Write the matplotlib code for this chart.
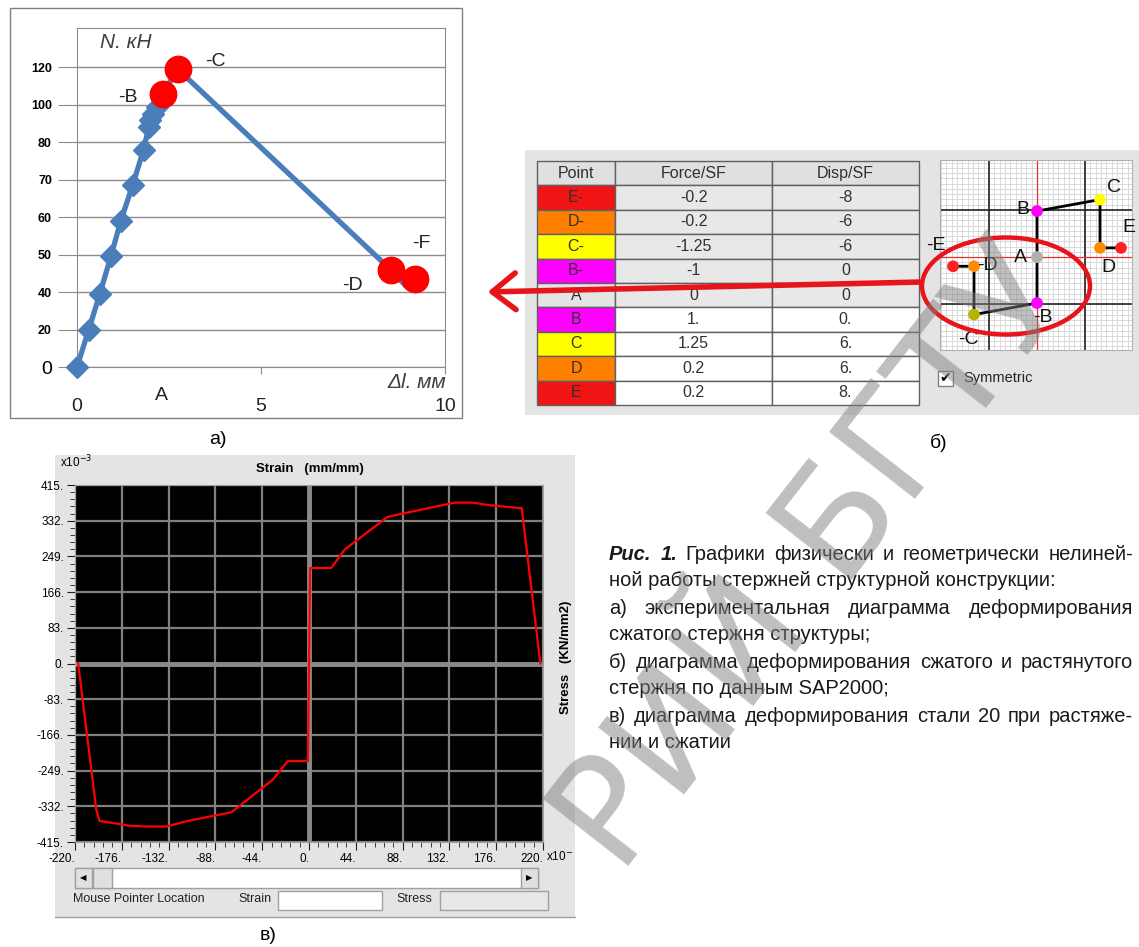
import numpy as np
import matplotlib
matplotlib.use('Agg')
import matplotlib.pyplot as plt
import matplotlib.transforms as mtransforms
from matplotlib.patches import Rectangle, Ellipse, FancyArrowPatch
from matplotlib import font_manager as fm

# ---- panel a: experimental diagram (plotted units, y labels are irregular) ----
disp_a = [0.0, 0.32, 0.62, 0.92, 1.19, 1.51, 1.81, 1.95, 1.99, 2.06, 2.17, 2.33, 2.74, 8.52, 8.9]
load_a = [0, 20, 39, 59, 78, 97, 116, 128, 132, 135, 139, 146, 159, 52, 44]
red_names = ['-B', '-C', '-D', '-F']
red_x = [2.33, 2.74, 8.52, 9.19]
red_y = [146, 159, 52, 47]
ytick_labels_a = ['0', '20', '40', '50', '60', '70', '80', '100', '120']
xtick_labels_a = ['0', '5', '10']

# ---- panel b: SAP2000 hinge table ----
points = ['E-', 'D-', 'C-', 'B-', 'A', 'B', 'C', 'D', 'E']
force_sf = [-0.2, -0.2, -1.25, -1, 0, 1, 1.25, 0.2, 0.2]
disp_sf = [-8, -6, -6, 0, 0, 0, 6, 6, 8]
force_txt = ['-0.2', '-0.2', '-1.25', '-1', '0', '1.', '1.25', '0.2', '0.2']
disp_txt = ['-8', '-6', '-6', '0', '0', '0.', '6.', '6.', '8.']
cell_cols = ['#f01414', '#ff8000', '#ffff00', '#ff00ff', '#e4e4e4',
             '#ff00ff', '#ffff00', '#ff8000', '#f01414']
dot_cols = ['#ff2020', '#ff8c00', '#b5b500', '#ff00ff', '#b0b0b0',
            '#ff00ff', '#ffff00', '#ff8c00', '#ff2020']

# ---- panel c: steel 20 stress-strain ----
strain_v = [-217, -200, -197, -169, -153, -134, -114, -73, -34, -20, -1, 0, 1,
            21, 33.5, 74, 106, 137, 154, 170, 200, 217.5]
stress_v = [0, -340, -366, -377, -379, -379, -366, -346, -270, -227, -227, 0, 222,
            222, 265, 341, 358, 374, 374, 368, 361, 0]

names = {f.name for f in fm.fontManager.ttflist}
NARROW = 'Liberation Sans Narrow' if 'Liberation Sans Narrow' in names else 'Liberation Sans'
NF = [NARROW, 'DejaVu Sans']
AF = ['Liberation Sans', 'DejaVu Sans']

W, H = 1139, 947
fig = plt.figure(figsize=(W / 100, H / 100), dpi=100)
PX = mtransforms.Affine2D().scale(1 / W, -1 / H).translate(0, 1) + fig.transFigure


def box(x0, y0, x1, y1):
    return [x0 / W, 1 - y1 / H, (x1 - x0) / W, (y1 - y0) / H]


def rect(x0, y0, x1, y1, **kw):
    fig.add_artist(Rectangle((x0, y0), x1 - x0, y1 - y0, transform=PX, **kw))


def txt(x, y, s, **kw):
    kw.setdefault('family', AF)
    return fig.text(x, y, s, transform=PX, **kw)


# ================= panel a =================
rect(10, 8, 462, 418, fill=False, ec='#808080', lw=1)
ax_a = fig.add_axes(box(77, 28, 445, 367))
ax_a.set_xlim(0, 10)
ax_a.set_ylim(0, 181)
ax_a.set_yticks(np.arange(0, 161, 20))
ax_a.set_yticklabels(ytick_labels_a)
ax_a.set_xticks([0, 5, 10])
ax_a.set_xticklabels(xtick_labels_a)
ax_a.grid(axis='y', color='#8c8c8c', lw=1)
ax_a.set_axisbelow(True)
for s in ax_a.spines.values():
    s.set_color('#8c8c8c')
ax_a.tick_params(axis='y', length=14, color='#8c8c8c', pad=4)
ax_a.tick_params(axis='x', length=5, color='#8c8c8c', pad=17)
for i, lb in enumerate(ax_a.get_yticklabels()):
    lb.set_family(AF)
    if i == 0:
        lb.set_fontsize(14)
    else:
        lb.set_fontsize(9)
        lb.set_fontweight('bold')
for lb in ax_a.get_xticklabels():
    lb.set_fontsize(14)
    lb.set_family(AF)
    lb.set_color('#222222')

ax_a.plot(disp_a, load_a, color='#4a7ebb', lw=3.8, zorder=3, clip_on=False)
ax_a.plot(disp_a[:11], load_a[:11], 'D', color='#4a7ebb', ms=11.5, zorder=4, clip_on=False)
ax_a.plot(red_x, red_y, 'o', color='#ff0000', ms=19, zorder=5, clip_on=False)

txt(100, 43, 'N. кН', fontsize=15, style='italic', color='#404040', va='center')
txt(387, 383, 'Δl. мм', fontsize=15, style='italic', color='#404040', va='center')
for nm, (x, y) in zip(red_names, [(128, 98), (215, 62), (352, 285), (421, 243)]):
    txt(x, y, nm, fontsize=14, va='center', ha='center', color='#222222')
txt(161, 395, 'A', fontsize=14, va='center', ha='center', color='#222222')

# ================= panel b =================
rect(525, 150, 1139, 415, fc='#e4e4e4', ec='none', zorder=-10)
ax_t = fig.add_axes(box(537, 161, 919, 405))
ax_t.axis('off')
rows = [[p, f, d] for p, f, d in zip(points, force_txt, disp_txt)]
colours = []
for i, c in enumerate(cell_cols):
    bg = '#e8e8e8' if i < 5 else '#ffffff'
    colours.append([c, bg, bg])
tab = ax_t.table(cellText=rows, colLabels=['Point', 'Force/SF', 'Disp/SF'],
                 cellColours=colours, colColours=['#e0e0e0'] * 3,
                 colWidths=[0.205, 0.41, 0.385], bbox=[0, 0, 1, 1], cellLoc='center')
tab.auto_set_font_size(False)
for (r, c), cell in tab.get_celld().items():
    cell.set_edgecolor('#606060')
    cell.set_linewidth(1)
    cell.get_text().set_fontsize(11.5)
    cell.get_text().set_family(NF)
    cell.get_text().set_color('#303030')

ax_s = fig.add_axes(box(940, 160, 1132, 350))
ax_s.set_xlim(-9.24, 9.05)
ax_s.set_ylim(-2.02, 2.11)
ax_s.set_xticks([])
ax_s.set_yticks([])
ax_s.set_xticks(np.arange(-9.14, 9.1, 0.508), minor=True)
ax_s.set_yticks(np.arange(-1.94, 2.11, 0.114), minor=True)
ax_s.grid(which='minor', color='#d4d4d4', lw=0.6)
ax_s.tick_params(which='both', length=0)
for v in (-4.57, 4.57):
    ax_s.axvline(v, color='#222222', lw=1.2)
for v in (-1.02, 1.02):
    ax_s.axhline(v, color='#222222', lw=1.2)
ax_s.axvline(0, color='#e03030', lw=0.9)
ax_s.axhline(0, color='#e03030', lw=0.9)
for s in ax_s.spines.values():
    s.set_color('#b0b0b0')
ax_s.plot(disp_sf, force_sf, color='black', lw=2, zorder=3)
ax_s.scatter(disp_sf, force_sf, c=dot_cols, s=55, zorder=4)
for s, (x, y) in zip(['C', 'B', 'E', 'D', 'A', '-E', '-D', '-B', '-C'],
                     [(1114, 188), (1023, 209), (1129, 228), (1108, 268), (1020, 257),
                      (936, 246), (987, 265), (1043, 318), (968, 340)]):
    txt(x, y, s, fontsize=14, ha='center', va='center', color='#111111')

rect(938, 371, 953, 386, fc='white', ec='#808080', lw=1)
txt(945.5, 378.5, '✔', fontsize=10, ha='center', va='center', family=['DejaVu Sans'])
txt(963, 378, 'Symmetric', fontsize=10.5, va='center', family=NF, color='#222222')

fig.add_artist(Ellipse((1006, 286), 168, 97, transform=PX, fill=False,
                       ec='#e8141c', lw=3.2, zorder=20))
fig.add_artist(FancyArrowPatch((922, 282), (485, 292), transform=PX,
                               arrowstyle='->,head_length=0.7,head_width=0.55',
                               mutation_scale=24, lw=4, color='#e8141c',
                               capstyle='round', joinstyle='round', zorder=20))

# ================= panel c =================
rect(55, 455, 575, 917, fc='#e4e4e4', ec='none', zorder=-10)
fig.add_artist(plt.Line2D([55, 575], [917, 917], transform=PX, color='#a0a0a0', lw=1))
ax_v = fig.add_axes(box(75, 485, 543, 842), facecolor='black')
ax_v.set_xlim(-220, 220)
ax_v.set_ylim(-415, 415)
xt = np.arange(-220, 221, 44)
yt = np.arange(-415, 416, 83)
ax_v.set_xticks(xt)
ax_v.set_xticklabels([f'{v}.' for v in xt])
ax_v.set_xticks(np.arange(-220, 221, 8.8), minor=True)
ax_v.set_yticks(yt)
ax_v.set_yticklabels([f'{v}.' for v in yt])
ax_v.set_yticks(np.arange(-415, 416, 16.6), minor=True)
ax_v.grid(which='major', color='#808080', lw=1.6)
ax_v.axhline(0, color='#8a8a8a', lw=3.5)
ax_v.axvline(0, color='#8a8a8a', lw=3.5)
for s in ax_v.spines.values():
    s.set_color('#a0a0a0')
ax_v.tick_params(which='major', direction='out', color='#202020', length=6, pad=2,
                 labelsize=8.5)
ax_v.tick_params(which='minor', direction='out', color='#202020', length=3.5)
for lb in ax_v.get_xticklabels():
    lb.set_ha('right')
    lb.set_family(NF)
for lb in ax_v.get_yticklabels():
    lb.set_family(NF)
ax_v.plot(strain_v, stress_v, color='#ff0000', lw=1.6, zorder=5)

txt(310, 469, 'Strain   (mm/mm)', fontsize=9.5, fontweight='bold', ha='center', va='center')
txt(60, 462, r'x10$^{-3}$', fontsize=8.5, va='center', family=NF)
txt(546, 857, r'x10$^{-}$', fontsize=8.5, va='center', family=NF)
txt(566, 657, 'Stress   (KN/mm2)', fontsize=9.5, fontweight='bold', ha='center',
    va='center', rotation=90)

rect(75, 868, 538, 888, fc='white', ec='#a0a0a0', lw=1)
rect(75, 868, 92, 888, fc='#e0e0e0', ec='#a0a0a0', lw=1)
rect(93, 868, 112, 888, fc='#e0e0e0', ec='#a0a0a0', lw=1)
rect(521, 868, 538, 888, fc='#e0e0e0', ec='#a0a0a0', lw=1)
txt(83.5, 878, '◀', fontsize=6, ha='center', va='center', family=['DejaVu Sans'])
txt(529.5, 878, '▶', fontsize=6, ha='center', va='center', family=['DejaVu Sans'])
txt(73, 899, 'Mouse Pointer Location', fontsize=9, va='center', family=NF, color='#222222')
txt(238, 899, 'Strain', fontsize=9, va='center', family=NF, color='#222222')
rect(278, 891, 382, 910, fc='white', ec='#a0a0a0', lw=1)
txt(396, 899, 'Stress', fontsize=9, va='center', family=NF, color='#222222')
rect(440, 891, 548, 910, fc='#e8e8e8', ec='#a0a0a0', lw=1)

# ================= captions =================
txt(218, 440, 'а)', fontsize=14, ha='center', va='center', family=NF)
txt(939, 443, 'б)', fontsize=14, ha='center', va='center', family=NF)
txt(268, 935, 'в)', fontsize=14, ha='center', va='center', family=NF)

cap_lines = [
    ('Рис. 1. Графики физически и геометрически нелиней-', True),
    ('ной работы стержней структурной конструкции:', False),
    ('а) экспериментальная диаграмма деформирования', True),
    ('сжатого стержня структуры;', False),
    ('б) диаграмма деформирования сжатого и растянутого', True),
    ('стержня по данным SAP2000;', False),
    ('в) диаграмма деформирования стали 20 при растяже-', True),
    ('нии и сжатии', False),
]
x0c, x1c = 609, 1133
renderer = fig.canvas.get_renderer()
for i, (line, just) in enumerate(cap_lines):
    y = 552 + 27 * i
    if not just:
        txt(x0c, y, line, fontsize=14.5, va='center_baseline', family=NF, color='#1a1a1a')
        continue
    words = line.split(' ')
    ts = []
    for j, w in enumerate(words):
        bold = i == 0 and j < 2
        ts.append(txt(x0c, y, w, fontsize=14.5, va='center_baseline', family=NF,
                      color='#1a1a1a', fontweight='bold' if bold else 'normal',
                      style='italic' if bold else 'normal'))
    widths = [t.get_window_extent(renderer).width for t in ts]
    gap = (x1c - x0c - sum(widths)) / (len(ts) - 1)
    x = x0c
    for t, w in zip(ts, widths):
        t.set_x(x)
        x += w + gap

# watermark (visible part)
txt(815, 560, 'РИЙ БГТУ', fontsize=108, rotation=52, rotation_mode='anchor',
    ha='center', va='center', color='#808080', alpha=0.5, zorder=100,
    family=['DejaVu Sans'])

fig.savefig('out.png', dpi=100)
